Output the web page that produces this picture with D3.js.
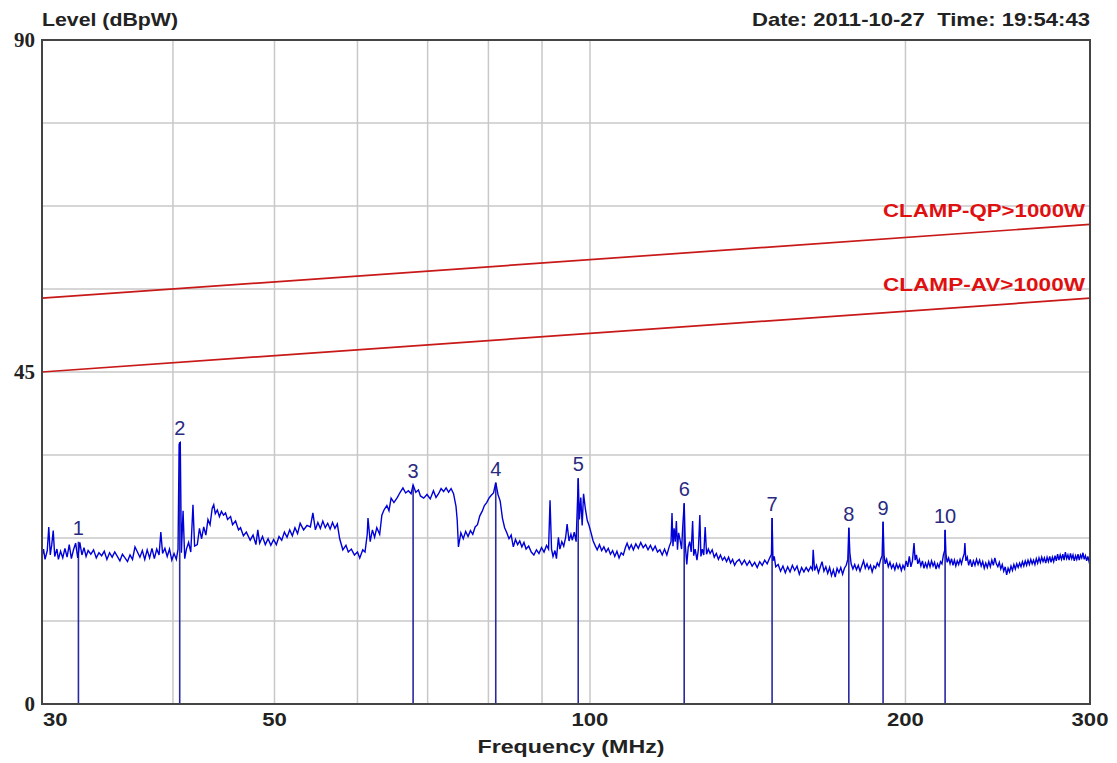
<!DOCTYPE html>
<html>
<head>
<meta charset="utf-8">
<script src="https://cdn.jsdelivr.net/npm/d3@7"></script>
<style>
  body { margin: 0; background: #fff; }
  svg text { font-family: "Liberation Sans", Arial, sans-serif; }
</style>
</head>
<body>
<svg id="chart" width="1117" height="763"></svg>
<script>
// measured trace: [MHz, dBpW]
const trace = [
  [30.0,20.0],[30.1,21.0],[30.2,19.6],[30.35,20.8],[30.45,24.0],[30.55,20.2],[30.65,21.6],
  [30.75,23.5],[30.85,20.0],[31.0,21.0],[31.1,19.6],[31.25,20.7],[31.4,19.8],[31.55,21.1],
  [31.7,19.9],[31.85,21.6],[32.0,19.7],[32.15,20.9],[32.3,21.8],[32.45,19.8],[32.6,21.9],
  [32.75,20.2],[32.9,21.2],[33.05,20.0],[33.2,20.8],[33.4,20.3],[33.6,20.9],[33.8,19.8],
  [34.0,20.5],[34.2,20.1],[34.4,20.7],[34.6,19.6],[34.8,20.5],[35.0,19.9],[35.2,20.6],
  [35.4,20.0],[35.6,19.4],[35.8,20.3],[36.0,19.8],[36.2,19.3],[36.4,20.2],[36.6,19.6],
  [36.8,21.3],[37.0,20.6],[37.2,19.9],[37.4,20.8],[37.6,19.6],[37.8,20.9],[38.0,19.8],
  [38.2,21.1],[38.4,19.7],[38.6,21.0],[38.8,20.2],[38.95,23.3],[39.1,20.4],[39.3,21.1],
  [39.5,20.0],[39.7,21.0],[39.9,19.5],[40.1,20.4],[40.3,19.6],[40.45,21.0],[40.55,35.2],
  [40.65,35.4],[40.75,20.5],[40.9,26.2],[41.05,19.7],[41.2,21.0],[41.4,21.9],[41.6,20.6],
  [41.8,27.0],[41.95,21.4],[42.2,21.6],[42.4,23.8],[42.6,22.4],[42.8,24.0],[43.0,22.9],
  [43.2,25.0],[43.4,24.3],[43.6,26.5],[43.75,27.0],[43.9,25.8],[44.1,26.3],[44.3,25.4],
  [44.5,26.1],[44.7,25.6],[44.9,25.9],[45.1,25.0],[45.4,25.4],[45.6,24.3],[45.9,24.8],
  [46.2,23.6],[46.4,23.9],[46.7,22.8],[47.0,23.3],[47.4,22.2],[47.7,22.9],[48.0,21.6],
  [48.2,23.6],[48.4,21.8],[48.7,22.7],[49.0,21.6],[49.3,22.4],[49.6,21.5],[49.9,22.3],
  [50.2,21.6],[50.5,22.7],[50.8,22.2],[51.1,23.3],[51.4,22.6],[51.7,23.6],[52.0,22.8],
  [52.3,23.9],[52.6,23.1],[52.9,24.5],[53.3,23.6],[53.7,24.2],[54.1,24.0],[54.4,25.9],
  [54.7,23.6],[55.0,24.6],[55.3,23.8],[55.6,24.8],[55.9,23.9],[56.2,24.5],[56.5,23.7],
  [56.8,24.6],[57.1,23.8],[57.4,24.4],[57.7,22.4],[58.1,20.9],[58.5,21.5],[58.8,20.6],
  [59.2,21.0],[59.6,20.2],[60.0,20.6],[60.3,19.8],[60.7,20.9],[61.0,20.6],[61.3,23.0],
  [61.4,25.2],[61.7,22.0],[62.0,23.6],[62.3,22.6],[62.6,23.9],[63.0,23.0],[63.3,25.6],
  [63.6,26.3],[64.0,26.9],[64.3,26.2],[64.6,27.9],[65.0,27.3],[65.5,28.0],[65.9,28.7],
  [66.3,29.3],[66.7,28.6],[67.1,28.9],[67.5,28.5],[67.8,29.7],[68.2,28.7],[68.6,29.0],
  [68.9,28.2],[69.4,27.9],[69.9,28.4],[70.4,27.8],[70.9,28.9],[71.3,28.0],[71.7,28.5],
  [72.1,29.2],[72.5,28.8],[72.9,29.3],[73.3,28.7],[73.7,29.2],[74.1,28.5],[74.5,26.8],
  [74.7,24.9],[74.9,21.3],[75.3,23.2],[75.7,22.4],[76.1,23.4],[76.5,22.7],[76.9,23.5],
  [77.3,23.0],[77.7,24.0],[78.1,24.3],[78.5,25.5],[78.9,26.1],[79.3,26.9],[79.7,27.3],
  [80.1,27.9],[80.5,28.3],[80.9,28.6],[81.3,30.0],[81.7,28.4],[82.1,27.5],[82.5,25.2],
  [82.9,23.9],[83.3,23.2],[83.7,22.4],[84.1,22.9],[84.5,21.3],[84.9,22.3],[85.3,21.6],
  [85.7,22.1],[86.1,21.3],[86.5,21.9],[86.9,21.0],[87.4,21.4],[87.9,20.6],[88.4,20.2],
  [88.9,20.9],[89.4,20.4],[89.9,21.2],[90.4,20.6],[90.9,21.5],[91.3,21.0],[91.6,27.6],
  [91.9,21.0],[92.2,20.0],[92.6,20.8],[92.9,19.7],[93.3,22.6],[93.6,21.0],[94.0,22.0],
  [94.4,21.4],[94.8,22.6],[95.1,24.4],[95.5,22.1],[95.9,23.0],[96.2,22.2],[96.6,23.3],
  [97.0,22.0],[97.3,27.5],[97.45,30.6],[97.7,25.0],[98.0,28.0],[98.3,24.2],[98.6,28.5],
  [99.0,26.4],[99.4,24.9],[99.8,24.2],[100.2,23.3],[100.7,22.1],[101.2,21.4],[101.6,20.9],
  [102.1,21.6],[102.6,20.8],[103.1,21.3],[103.6,20.6],[104.1,21.1],[104.6,20.3],[105.1,20.8],
  [105.6,20.0],[106.1,20.7],[106.6,19.8],[107.1,20.5],[107.6,20.2],[108.1,21.2],[108.5,21.8],
  [109.0,21.0],[109.5,21.6],[110.0,20.9],[110.6,21.7],[111.2,21.1],[111.8,21.9],[112.4,21.2],
  [113.0,21.6],[113.6,20.9],[114.2,21.5],[114.8,20.8],[115.4,21.4],[116.0,20.6],[116.6,20.9],
  [117.2,20.2],[117.8,21.0],[118.4,20.2],[119.0,21.3],[119.5,22.0],[119.75,25.9],[120.0,21.4],
  [120.3,23.8],[120.6,22.0],[120.9,24.8],[121.2,20.9],[121.5,23.2],[121.9,22.2],[122.3,21.0],
  [122.6,24.0],[123.0,27.2],[123.3,21.5],[123.7,18.9],[124.1,21.3],[124.5,22.0],[124.9,20.6],
  [125.3,24.8],[125.6,20.1],[126.0,21.0],[126.5,19.5],[126.9,21.0],[127.3,25.6],[127.6,20.0],
  [128.0,21.0],[128.4,20.2],[128.8,24.0],[129.2,20.3],[129.7,21.0],[130.2,20.4],[130.8,20.9],
  [131.4,19.9],[132.0,20.4],[132.6,19.6],[133.2,20.2],[133.8,19.5],[134.4,19.9],[135.0,19.3],
  [135.6,19.9],[136.2,19.1],[136.8,19.6],[137.4,18.8],[138.0,19.3],[138.8,19.6],[139.6,18.9],
  [140.4,19.5],[141.2,18.8],[142.0,19.4],[142.8,18.7],[143.6,19.2],[144.4,18.5],[145.2,19.3],
  [146.0,18.8],[146.8,19.5],[147.6,19.0],[148.4,19.8],[149.0,20.3],[149.2,25.2],[149.5,19.4],
  [149.9,20.0],[150.4,18.6],[151.2,18.9],[152.0,18.0],[152.8,18.7],[153.6,17.8],[154.4,18.6],
  [155.2,17.9],[156.0,18.8],[156.8,18.1],[157.6,18.7],[158.4,17.6],[159.2,18.5],[160.0,17.9],
  [160.8,18.5],[161.6,18.0],[162.4,18.6],[163.0,18.2],[163.3,20.9],[163.8,18.1],[164.5,18.8],
  [165.2,17.8],[165.9,18.6],[166.5,19.3],[167.2,18.0],[167.9,18.6],[168.6,17.7],[169.3,18.5],
  [170.0,17.4],[170.7,18.2],[171.4,17.2],[172.1,18.4],[172.8,17.8],[173.5,18.5],[174.2,17.6],
  [174.9,18.4],[175.6,18.8],[176.2,19.6],[176.6,23.9],[177.0,20.5],[177.5,19.0],[178.2,18.3],
  [178.9,18.9],[179.6,18.2],[180.3,18.8],[181.0,18.0],[181.7,18.7],[182.4,19.4],[183.1,18.4],
  [183.8,19.0],[184.5,18.3],[185.2,18.8],[185.9,17.9],[186.6,18.7],[187.3,18.4],[188.0,19.1],
  [188.7,18.7],[189.4,19.6],[190.0,20.1],[190.4,24.7],[190.8,20.2],[191.3,19.0],[191.9,19.6],
  [192.6,18.6],[193.3,19.2],[194.0,18.4],[194.7,18.9],[195.4,18.2],[196.1,19.0],[196.8,18.4],
  [197.5,18.9],[198.2,18.1],[198.9,18.8],[199.6,18.3],[200.3,19.4],[201.0,18.6],[201.7,20.0],
  [202.4,18.6],[203.1,19.4],[203.8,21.8],[204.3,19.5],[204.9,20.2],[205.5,19.0],[206.2,19.6],
  [206.9,18.7],[207.6,19.4],[208.3,18.4],[209.0,19.1],[209.7,18.5],[210.4,19.3],[211.1,18.6],
  [211.8,19.4],[212.5,18.7],[213.2,19.2],[213.9,18.3],[214.6,19.0],[215.3,18.5],[216.0,19.3],
  [216.7,19.0],[217.4,20.2],[218.0,20.8],[218.2,23.6],[218.6,20.4],[219.2,19.2],[219.9,19.8],
  [220.6,19.0],[221.3,19.7],[222.0,18.8],[222.7,19.5],[223.4,18.7],[224.1,19.4],[224.8,18.9],
  [225.5,19.6],[226.2,19.0],[226.9,19.8],[227.6,20.4],[227.9,21.8],[228.4,19.4],[229.1,19.9],
  [229.8,18.8],[230.6,19.6],[231.4,18.6],[232.2,19.4],[233.0,18.8],[233.8,19.6],[234.6,18.9],
  [235.4,19.5],[236.2,18.7],[237.0,19.3],[237.8,18.4],[238.6,19.1],[239.4,18.5],[240.2,19.3],
  [241.0,18.6],[241.8,19.5],[242.6,18.8],[243.4,19.8],[244.2,19.0],[245.0,18.6],[245.8,19.2],
  [246.6,18.3],[247.4,18.9],[248.2,18.0],[249.0,18.6],[249.8,17.5],[250.6,18.4],[251.4,17.9],
  [252.2,18.7],[253.0,18.1],[253.8,18.9],[254.6,18.3],[255.4,19.0],[256.2,18.5],[257.0,19.1],
  [257.8,18.6],[258.6,19.3],[259.4,18.7],[260.2,19.4],[261.0,18.8],[261.8,19.5],[262.6,18.9],
  [263.4,19.6],[264.2,19.0],[265.0,19.5],[265.8,18.9],[266.6,19.7],[267.4,19.1],[268.2,19.8],
  [269.0,19.2],[269.8,19.9],[270.6,19.3],[271.4,19.8],[272.2,19.1],[273.0,19.9],[273.8,19.3],
  [274.6,20.0],[275.4,19.2],[276.2,19.9],[277.0,19.3],[277.8,20.1],[278.6,19.4],[279.4,20.3],
  [280.2,19.5],[281.0,20.2],[281.8,19.6],[282.6,20.3],[283.4,19.5],[284.2,20.6],[285.0,19.7],
  [285.8,20.2],[286.6,19.5],[287.4,20.4],[288.2,19.7],[289.0,20.2],[289.8,19.4],[290.6,20.1],
  [291.4,19.6],[292.2,20.3],[293.0,19.5],[293.8,20.2],[294.6,19.8],[295.4,20.5],[296.2,19.6],
  [297.0,20.1],[297.8,19.4],[298.6,20.0],[299.4,19.3],[300.0,19.6]
];

// final measurement markers
const markerIds = [1, 2, 3, 4, 5, 6, 7, 8, 9, 10];
const markerFreq = [32.5, 40.6, 67.8, 81.3, 97.45, 123.0, 149.2, 176.6, 190.4, 218.2];
const markerLevel = [22.0, 35.5, 29.7, 30.0, 30.6, 27.2, 25.2, 23.9, 24.7, 23.6];

// limit lines (start at 30 MHz, end at 300 MHz)
const limitNames = ["CLAMP-QP>1000W", "CLAMP-AV>1000W"];
const limitStart = [55, 45];
const limitEnd = [65, 55];

const xGrid = [40, 50, 60, 70, 80, 90, 100, 200];
const xTickLabels = [30, 50, 100, 200, 300];
const yGrid = [11.25, 22.5, 33.75, 45, 56.25, 67.5, 78.75];
const yTickLabels = [0, 45, 90];

const pLeft = 42, pRight = 1090, pTop = 40, pBottom = 704;

const svg = d3.select("#chart");

const x = d3.scaleLog().domain([30, 300]).range([pLeft, pRight]);
const y = d3.scaleLinear().domain([0, 90]).range([pBottom, pTop]);

// grid
svg.append("g")
    .selectAll("line")
    .data(xGrid)
    .join("line")
    .attr("x1", d => x(d)).attr("x2", d => x(d))
    .attr("y1", pTop).attr("y2", pBottom)
    .attr("stroke", "#c8c8c8")
    .attr("stroke-width", 1.5);

svg.append("g")
    .selectAll("line")
    .data(yGrid)
    .join("line")
    .attr("x1", pLeft).attr("x2", pRight)
    .attr("y1", d => y(d)).attr("y2", d => y(d))
    .attr("stroke", "#c8c8c8")
    .attr("stroke-width", 1.5);

// limit lines
limitNames.forEach((name, i) => {
    svg.append("line")
        .attr("x1", x(30)).attr("y1", y(limitStart[i]))
        .attr("x2", x(300)).attr("y2", y(limitEnd[i]))
        .attr("stroke", "#c81818")
        .attr("stroke-width", 1.7);
    svg.append("text")
        .attr("x", pRight - 5)
        .attr("y", y(limitEnd[i]) - 7)
        .attr("text-anchor", "end")
        .attr("fill", "#e01010")
        .attr("font-size", 18)
        .attr("font-weight", "bold")
        .attr("textLength", 202)
        .attr("lengthAdjust", "spacingAndGlyphs")
        .text(name);
});

// marker lines
svg.append("g")
    .selectAll("line")
    .data(markerIds)
    .join("line")
    .attr("x1", (d, i) => x(markerFreq[i]))
    .attr("x2", (d, i) => x(markerFreq[i]))
    .attr("y1", pBottom)
    .attr("y2", (d, i) => y(markerLevel[i]))
    .attr("stroke", "#2828a0")
    .attr("stroke-width", 1.6);

// trace
const line = d3.line()
    .x(d => x(d[0]))
    .y(d => y(d[1]));

svg.append("path")
    .datum(trace)
    .attr("d", line)
    .attr("fill", "none")
    .attr("stroke", "#0000d8")
    .attr("stroke-width", 1.4);

// marker labels
svg.append("g")
    .selectAll("text")
    .data(markerIds)
    .join("text")
    .attr("x", (d, i) => x(markerFreq[i]))
    .attr("y", (d, i) => y(markerLevel[i]) - 7)
    .attr("text-anchor", "middle")
    .attr("fill", "#2a2a80")
    .attr("font-size", 20)
    .text(d => d);

// frame
svg.append("rect")
    .attr("x", pLeft).attr("y", pTop)
    .attr("width", pRight - pLeft).attr("height", pBottom - pTop)
    .attr("fill", "none")
    .attr("stroke", "#444")
    .attr("stroke-width", 2);

// axis labels
svg.append("g")
    .selectAll("text")
    .data(xTickLabels)
    .join("text")
    .attr("x", d => d === 30 ? pLeft + 1 : x(d))
    .attr("y", pBottom + 22)
    .attr("text-anchor", d => d === 30 ? "start" : "middle")
    .attr("font-size", 19)
    .attr("font-weight", "bold")
    .attr("fill", "#222")
    .attr("textLength", d => String(d).length * 12.3)
    .attr("lengthAdjust", "spacingAndGlyphs")
    .text(d => d);

svg.append("g")
    .selectAll("text")
    .data(yTickLabels)
    .join("text")
    .attr("x", 35)
    .attr("y", d => y(d) + 7)
    .attr("text-anchor", "end")
    .attr("font-size", 21)
    .attr("font-weight", "bold")
    .attr("fill", "#222")
    .style("font-family", "'Liberation Serif', 'Times New Roman', serif")
    .text(d => d);

svg.append("text")
    .attr("x", pLeft)
    .attr("y", 26)
    .attr("font-size", 19)
    .attr("font-weight", "bold")
    .attr("fill", "#222")
    .attr("textLength", 136)
    .attr("lengthAdjust", "spacingAndGlyphs")
    .text("Level (dBpW)");

svg.append("text")
    .attr("x", pRight)
    .attr("y", 26)
    .attr("text-anchor", "end")
    .attr("font-size", 19)
    .attr("font-weight", "bold")
    .attr("fill", "#222")
    .attr("textLength", 338)
    .attr("lengthAdjust", "spacingAndGlyphs")
    .style("white-space", "pre")
    .text("Date: 2011-10-27  Time: 19:54:43");

svg.append("text")
    .attr("x", 571)
    .attr("y", 753)
    .attr("text-anchor", "middle")
    .attr("font-size", 19)
    .attr("font-weight", "bold")
    .attr("fill", "#222")
    .attr("textLength", 187)
    .attr("lengthAdjust", "spacingAndGlyphs")
    .text("Frequency (MHz)");
</script>
</body>
</html>
